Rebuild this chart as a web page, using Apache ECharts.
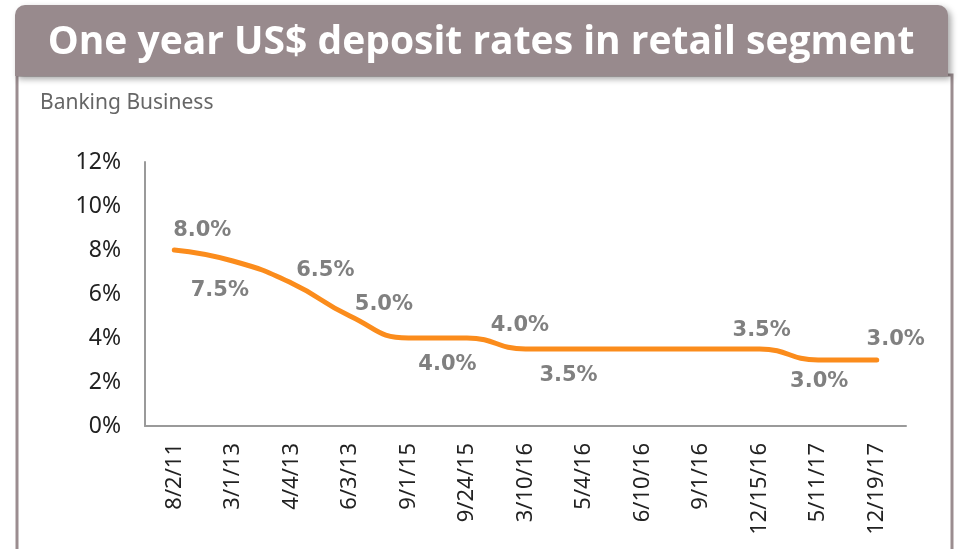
<!DOCTYPE html>
<html>
<head>
<meta charset="utf-8">
<script src="https://cdn.jsdelivr.net/npm/echarts@6/dist/echarts.min.js"></script>
<style>
html,body{margin:0;padding:0;background:#fff;}
#main{width:962px;height:549px;}
</style>
</head>
<body>
<div id="main"></div>
<script>
var titleText = 'One year US$ deposit rates in retail segment';
var subtitleText = 'Banking Business';
var categories = ['8/2/11','3/1/13','4/4/13','6/3/13','9/1/15','9/24/15','3/10/16','5/4/16','6/10/16','9/1/16','12/15/16','5/11/17','12/19/17'];
var rates = [8.0, 7.5, 6.5, 5.0, 4.0, 4.0, 3.5, 3.5, 3.5, 3.5, 3.5, 3.0, 3.0];
var labelShown = [true, true, true, true, true, true, true, false, false, false, true, true, true];
var yTicks = [0, 2, 4, 6, 8, 10, 12];

// label offsets relative to each point (layout, not data)
var labelOffsets = [[28,-19],[-13,30],[34,-12],[34,-11],[39,27],[53,-12],[43,27],[0,0],[0,0],[0,0],[2,-18],[1,22],[19,-20]];

var chart = echarts.init(document.getElementById('main'), null, {renderer:'canvas'});

var seriesData = rates.map(function(v, i){
  return {
    value: v,
    label: {
      show: labelShown[i],
      position: 'inside',
      offset: labelOffsets[i]
    }
  };
});

var option = {
  backgroundColor: '#ffffff',
  animation: false,
  title: [{
    text: titleText,
    left: 'center',
    top: 18,
    textStyle: {color: '#ffffff', fontFamily: 'Open Sans', fontWeight: 'bold', fontSize: 39}
  },{
    text: subtitleText,
    left: 35,
    top: 88,
    textStyle: {color: '#666666', fontFamily: 'Noto Sans', fontWeight: 'normal', fontSize: 21}
  }],
  graphic: [
    {type:'rect', z:-1, shape:{x:17, y:75, width:935, height:480}, style:{fill:'#fff', stroke:'#9b8d90', lineWidth:3}},
    {type:'rect', z:0, shape:{x:15, y:5, width:933, height:71, r:[10,10,0,0]},
     style:{fill:'#988a8d', shadowBlur:6, shadowOffsetX:3, shadowOffsetY:3, shadowColor:'rgba(0,0,0,0.35)'}}
  ],
  grid: {left: 145, right: 56, top: 162, bottom: 123, containLabel: false},
  xAxis: {
    type: 'category',
    data: categories,
    boundaryGap: true,
    axisLine: {lineStyle: {color: '#9a9a9a', width: 2}},
    axisTick: {show: false},
    axisLabel: {rotate: 90, margin: 17, color: '#222', fontFamily: 'Noto Sans', fontSize: 22, interval: 0}
  },
  yAxis: {
    type: 'value',
    min: yTicks[0],
    max: yTicks[yTicks.length-1],
    interval: 2,
    axisLine: {show: true, lineStyle: {color: '#9a9a9a', width: 2}},
    axisTick: {show: false},
    splitLine: {show: false},
    axisLabel: {margin: 24, color: '#222', fontFamily: 'Noto Sans', fontSize: 23, formatter: '{value}%'}
  },
  series: [{
    type: 'line',
    data: seriesData,
    smooth: 0.5,
    symbol: 'circle',
    symbolSize: 1,
    showSymbol: true,
    itemStyle: {color: 'rgba(0,0,0,0)'},
    lineStyle: {color: '#fb8c1c', width: 5, cap: 'round'},
    label: {
      color: '#808080',
      fontFamily: 'DejaVu Sans',
      fontWeight: 'bold',
      fontSize: 21,
      formatter: function(p){ return p.value.toFixed(1) + '%'; }
    }
  }]
};
chart.setOption(option);
</script>
</body>
</html>
